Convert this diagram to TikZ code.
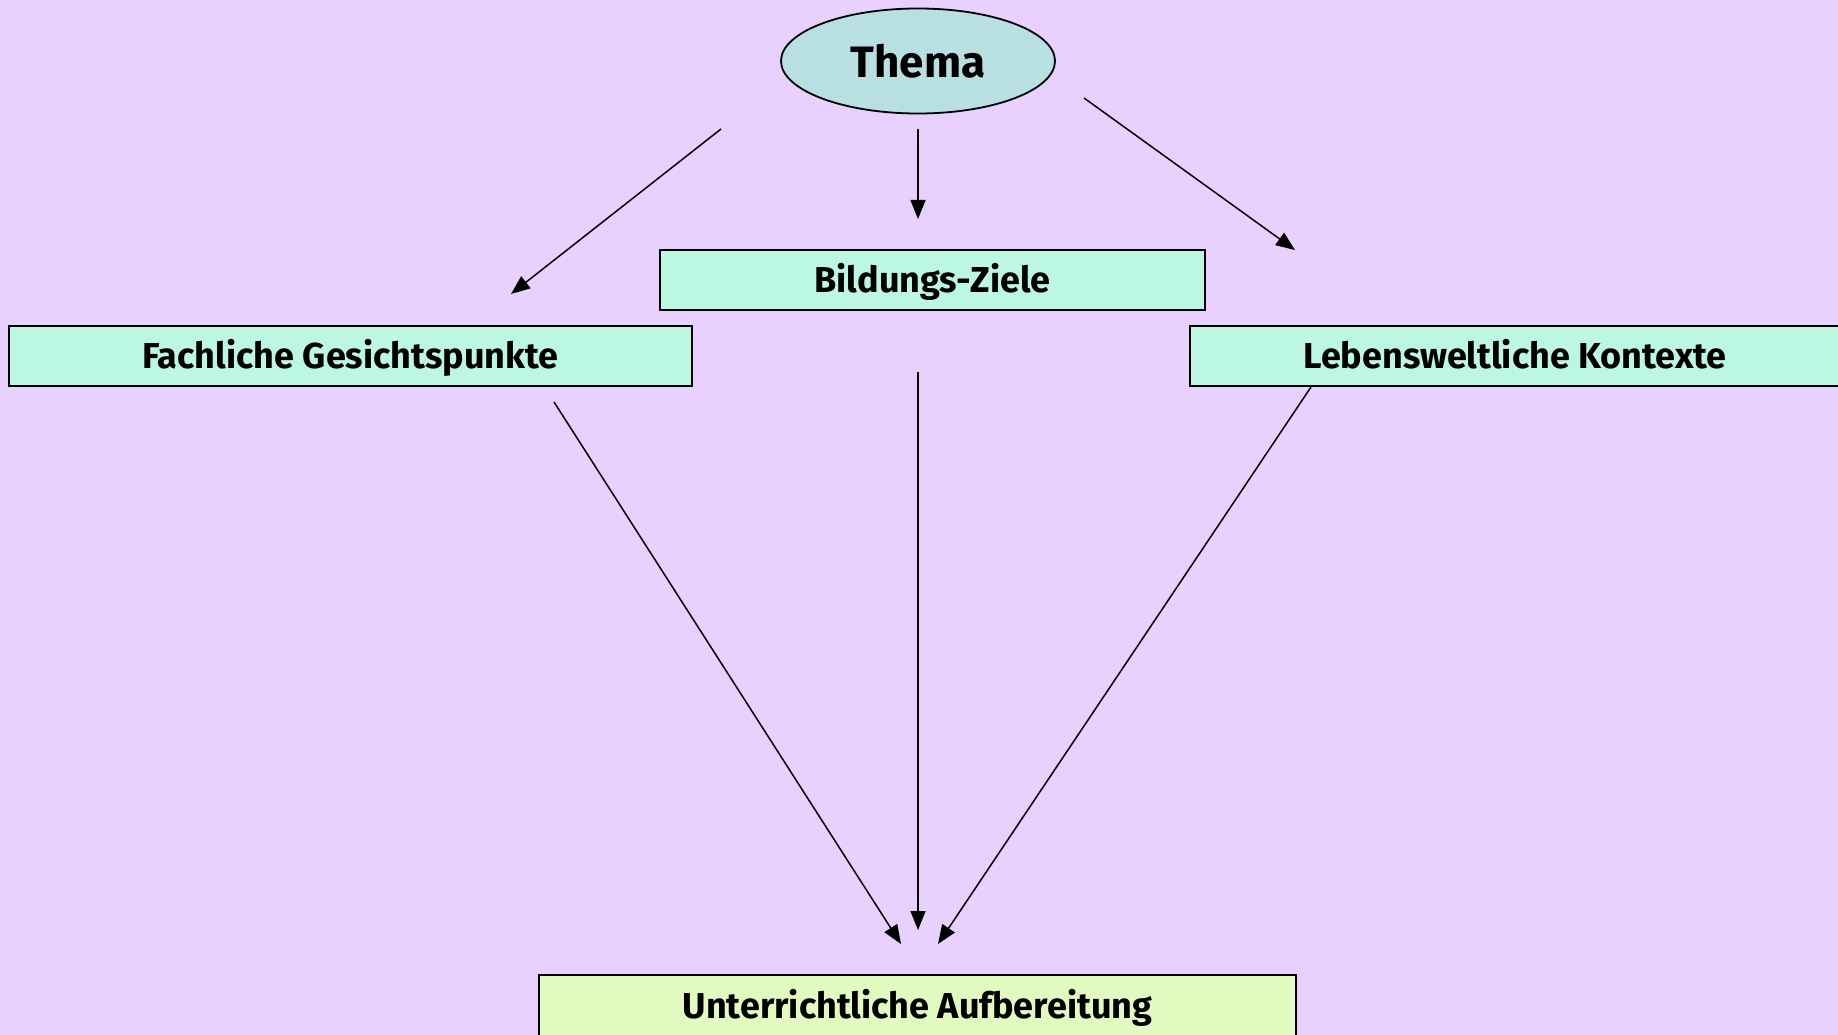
\documentclass[tikz,border=0pt]{standalone}
\usepackage{fontspec}
\setmainfont{Fira Sans}
\usetikzlibrary{shapes.geometric,arrows.meta}
\definecolor{bgc}{RGB}{232,208,255}
\definecolor{ellc}{RGB}{184,224,226}
\definecolor{boxc}{RGB}{187,247,227}
\definecolor{botc}{RGB}{224,250,192}
\tikzset{
  boxnode/.style={draw=black, line width=1.6pt, fill=boxc, inner sep=0pt, text height=28pt, text depth=4pt, font=\fontsize{36}{42}\selectfont\bfseries},
  arr/.style={line width=1.5pt, -{Triangle[length=19pt,width=15pt]}},
}
\begin{document}
\begin{tikzpicture}[x=1pt,y=-1pt]
\fill[bgc] (0,0) rectangle (1838,1035);
\useasboundingbox (0,0) rectangle (1838,1035);
\node[ellipse, draw=black, line width=1.8pt, fill=ellc, minimum width=274pt, minimum height=105pt, inner sep=0pt, font=\fontsize{44}{50}\selectfont\bfseries] (thema) at (918,61) {Thema};
\node[boxnode, minimum width=545pt, minimum height=60pt] (ziele) at (932.5,280) {Bildungs-Ziele};
\node[boxnode, minimum width=683pt, minimum height=60pt] (fach) at (350.5,356) {Fachliche Gesichtspunkte};
\node[boxnode, minimum width=650pt, minimum height=60pt] (leben) at (1515,356) {Lebensweltliche Kontexte};
\node[boxnode, fill=botc, minimum width=757pt, minimum height=62pt] (unter) at (917.5,1006) {Unterrichtliche Aufbereitung};
% arrow end points
\coordinate (a1s) at (721,129); \coordinate (a1e) at (511,294);
\coordinate (a2s) at (918,129); \coordinate (a2e) at (918,219);
\coordinate (a3s) at (1084,98); \coordinate (a3e) at (1295,250);
\coordinate (a4s) at (554,402); \coordinate (a4e) at (901,944);
\coordinate (a5s) at (918,372); \coordinate (a5e) at (918,930);
\coordinate (a6s) at (1311,387); \coordinate (a6e) at (938,944);
\draw[arr] (a1s) -- (a1e);
\draw[arr] (a2s) -- (a2e);
\draw[arr] (a3s) -- (a3e);
\draw[arr] (a4s) -- (a4e);
\draw[arr] (a5s) -- (a5e);
\draw[arr] (a6s) -- (a6e);
\end{tikzpicture}
\end{document}
